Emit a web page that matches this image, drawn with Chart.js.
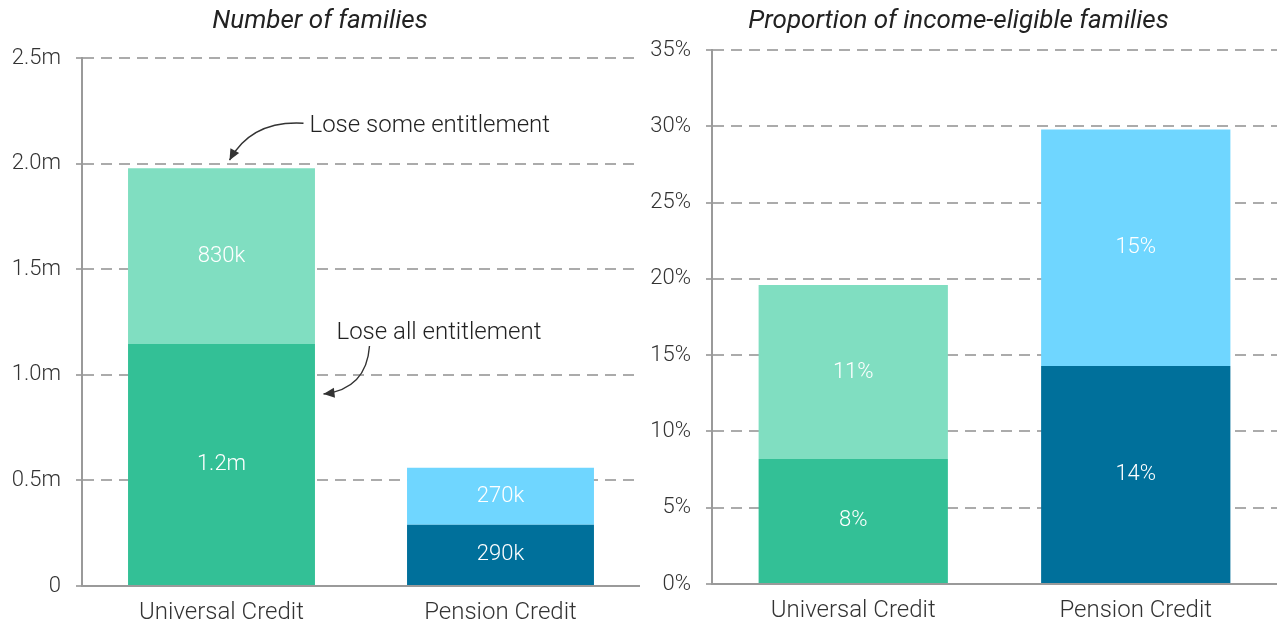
<!DOCTYPE html>
<html>
<head>
<meta charset="utf-8">
<script src="https://cdn.jsdelivr.net/npm/chart.js@4"></script>
<style>
  html, body { margin: 0; padding: 0; background: #fff; }
  #wrap { position: relative; width: 1277px; height: 625px; }
  #left { position: absolute; left: 0; top: 0; }
  #right { position: absolute; left: 640px; top: 0; }
</style>
</head>
<body>
<div id="wrap">
  <canvas id="left" width="640" height="625"></canvas>
  <canvas id="right" width="637" height="625"></canvas>
</div>
<script>
// data
const categories = ['Universal Credit', 'Pension Credit'];

// number of families, millions
const familiesLoseAll = [1.146, 0.29];
const familiesLoseSome = [0.833, 0.27];
const familiesLoseAllLabels = ['1.2m', '290k'];
const familiesLoseSomeLabels = ['830k', '270k'];
const familiesTicks = ['0', '0.5m', '1.0m', '1.5m', '2.0m', '2.5m'];

// share of income-eligible families, %
const shareLoseAll = [8.2, 14.3];
const shareLoseSome = [11.4, 15.5];
const shareLoseAllLabels = ['8%', '14%'];
const shareLoseSomeLabels = ['11%', '15%'];
const shareTicks = ['0%', '5%', '10%', '15%', '20%', '25%', '30%', '35%'];

const colorsAll = ['#33c096', '#00709b'];
const colorsSome = ['#80dec1', '#6fd6ff'];

const FONT = 'Roboto, "Noto Sans", sans-serif';
const GRID = '#ababab';
const DASH = [11, 7];

// white value labels in the middle of each segment
const segmentLabels = {
  id: 'segmentLabels',
  afterDatasetsDraw(chart) {
    const ctx = chart.ctx;
    ctx.save();
    ctx.fillStyle = '#fff';
    ctx.font = '300 22px ' + FONT;
    ctx.textAlign = 'center';
    ctx.textBaseline = 'middle';
    chart.data.datasets.forEach((ds, di) => {
      const meta = chart.getDatasetMeta(di);
      meta.data.forEach((el, i) => {
        ctx.fillText(ds.valueLabels[i], el.x, (el.y + el.base) / 2);
      });
    });
    ctx.restore();
  },
};

// curved arrow helper
function arrow(ctx, x0, y0, cx, cy, x1, y1) {
  ctx.beginPath();
  ctx.moveTo(x0, y0);
  ctx.quadraticCurveTo(cx, cy, x1, y1);
  ctx.stroke();
  const a = Math.atan2(y1 - cy, x1 - cx);
  const len = 11, w = 5;
  ctx.beginPath();
  ctx.moveTo(x1, y1);
  ctx.lineTo(x1 - len * Math.cos(a) + w * Math.sin(a), y1 - len * Math.sin(a) - w * Math.cos(a));
  ctx.lineTo(x1 - len * Math.cos(a) - w * Math.sin(a), y1 - len * Math.sin(a) + w * Math.cos(a));
  ctx.closePath();
  ctx.fill();
}

// annotations on the left chart, anchored on the Universal Credit bar
const entitlementNotes = {
  id: 'entitlementNotes',
  afterDatasetsDraw(chart) {
    const { ctx, scales } = chart;
    const xc = scales.x.getPixelForValue(0);
    const yTop = scales.y.getPixelForValue(familiesLoseAll[0] + familiesLoseSome[0]);
    const yMid = scales.y.getPixelForValue(familiesLoseAll[0]);
    ctx.save();
    ctx.strokeStyle = '#333';
    ctx.fillStyle = '#333';
    ctx.lineWidth = 1.4;
    // lose some
    arrow(ctx, xc + 82, yTop - 45, xc + 30, yTop - 48, xc + 8, yTop - 8);
    // lose all
    arrow(ctx, xc + 148, yMid + 2, xc + 145, yMid + 45, xc + 102, yMid + 50);
    ctx.font = '300 24px ' + FONT;
    ctx.textBaseline = 'middle';
    ctx.textAlign = 'left';
    ctx.fillStyle = '#222';
    ctx.fillText('Lose some entitlement', xc + 88, yTop - 42);
    ctx.fillText('Lose all entitlement', xc + 115, yMid - 11);
    ctx.restore();
  },
};

function makeChart(id, title, allVals, someVals, allLabels, someLabels, tickLabels, max, step, axisWidth, axisHeight, titleBottom) {
  return new Chart(document.getElementById(id), {
    type: 'bar',
    data: {
      labels: categories,
      datasets: [
        { data: allVals, backgroundColor: colorsAll, valueLabels: allLabels },
        { data: someVals, backgroundColor: colorsSome, valueLabels: someLabels },
      ],
    },
    options: {
      responsive: false,
      animation: false,
      layout: { padding: 0 },
      datasets: { bar: { categoryPercentage: 1, barPercentage: 0.67 } },
      scales: {
        x: {
          stacked: true,
          afterFit: (scale) => { scale.height = axisHeight; },
          grid: { display: false },
          border: { color: '#9a9a9a', width: 2 },
          ticks: { color: '#333', padding: 5, font: { family: FONT, size: 24, weight: 300 } },
        },
        y: {
          stacked: true,
          min: 0,
          max: max,
          afterFit: (scale) => { scale.width = axisWidth; },
          ticks: {
            stepSize: step,
            padding: 15,
            color: '#333',
            font: { family: FONT, size: 22, weight: 300 },
            callback: (v, i) => tickLabels[i],
          },
          grid: {
            color: GRID,
            lineWidth: 2,
            tickLength: 6,
            tickColor: GRID,
            tickWidth: 2,
            tickBorderDash: (c) => (c.tick && c.tick.value === 0 ? [] : DASH),
          },
          border: {
            color: '#9a9a9a',
            width: 2,
            dash: (c) => (c.tick && c.tick.value === 0 ? [] : DASH),
          },
        },
      },
      plugins: {
        legend: { display: false },
        tooltip: { enabled: false },
        title: {
          display: true,
          text: title,
          color: '#222',
          font: { family: FONT, size: 26, style: 'italic', weight: 400 },
          padding: { top: 6, bottom: titleBottom },
        },
      },
    },
    plugins: id === 'left' ? [segmentLabels, entitlementNotes] : [segmentLabels],
  });
}

makeChart('left', 'Number of families', familiesLoseAll, familiesLoseSome,
  familiesLoseAllLabels, familiesLoseSomeLabels, familiesTicks, 2.5, 0.5, 82, 39, 21);
makeChart('right', 'Proportion of income-eligible families', shareLoseAll, shareLoseSome,
  shareLoseAllLabels, shareLoseSomeLabels, shareTicks, 35, 5, 72, 41, 13);
</script>
</body>
</html>
